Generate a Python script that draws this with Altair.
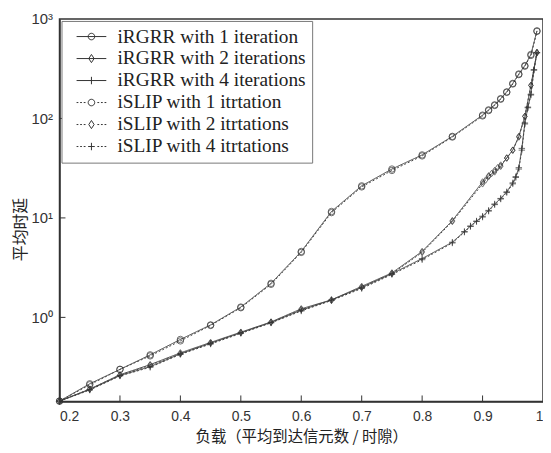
import altair as alt
import pandas as pd

# ---- data ----
series_names = [
    "iRGRR with 1 iteration",
    "iRGRR with 2 iterations",
    "iRGRR with 4 iterations",
    "iSLIP with 1 itrtation",
    "iSLIP with 2 itrtations",
    "iSLIP with 4 itrtations",
]

x_base = [0.2, 0.25, 0.3, 0.35, 0.4, 0.45, 0.5, 0.55, 0.6, 0.65, 0.7, 0.75, 0.8, 0.85]

# iRGRR 1 iteration
r1_x = x_base + [0.9, 0.91, 0.92, 0.93, 0.94, 0.95, 0.96, 0.97, 0.98, 0.99]
r1_y = [0.144, 0.215, 0.30, 0.42, 0.60, 0.84, 1.27, 2.2, 4.6, 11.6, 21, 31, 43, 66,
        108, 122, 137, 158, 185, 225, 280, 340, 440, 760]

# iSLIP 1 iteration
s1_x = x_base + [0.9, 0.91, 0.92, 0.93, 0.94, 0.95, 0.96, 0.97, 0.98, 0.99]
s1_y = [0.144, 0.21, 0.30, 0.41, 0.58, 0.83, 1.25, 2.15, 4.5, 11.3, 20.5, 30, 42, 65,
        106, 120, 135, 156, 183, 222, 276, 335, 430, 750]

# iRGRR 2 iterations
r2_x = x_base + [0.9, 0.91, 0.92, 0.93, 0.94, 0.95, 0.96, 0.97, 0.98, 0.99]
r2_y = [0.144, 0.19, 0.265, 0.335, 0.44, 0.56, 0.71, 0.90, 1.22, 1.5, 2.05, 2.8, 4.6, 9.4,
        23, 26.5, 29, 33, 40, 48, 66, 105, 215, 460]

# iSLIP 2 iterations
s2_x = x_base + [0.9, 0.905, 0.91, 0.915, 0.92, 0.925, 0.93, 0.94, 0.95, 0.96, 0.97, 0.98, 0.99]
s2_y = [0.144, 0.19, 0.262, 0.33, 0.43, 0.55, 0.70, 0.89, 1.2, 1.48, 2.0, 2.75, 4.5, 9.2,
        22, 24, 26, 28, 30, 32, 34, 40, 48, 65, 105, 215, 460]

# iRGRR 4 iterations
r4_x = x_base + [0.87, 0.88, 0.89, 0.9, 0.91, 0.92, 0.93, 0.94, 0.95, 0.955, 0.96,
                 0.965, 0.97, 0.975, 0.98, 0.985, 0.99]
r4_y = [0.144, 0.188, 0.26, 0.32, 0.43, 0.55, 0.70, 0.89, 1.18, 1.5, 2.0, 2.75, 3.9, 5.7,
        7.3, 8.3, 9.3, 10.4, 11.9, 13.8, 15.7, 18.3, 22.5, 26, 32, 50, 90, 130, 175, 310, 460]

# iSLIP 4 iterations
s4_x = x_base + [0.87, 0.88, 0.89, 0.9, 0.91, 0.92, 0.93, 0.94, 0.95, 0.955, 0.96,
                 0.965, 0.97, 0.975, 0.98, 0.985, 0.99]
s4_y = [0.144, 0.186, 0.258, 0.315, 0.425, 0.54, 0.69, 0.88, 1.16, 1.48, 1.95, 2.7, 3.8, 5.6,
        7.2, 8.2, 9.2, 10.2, 11.7, 13.6, 15.5, 18, 22, 25.5, 31, 48, 88, 128, 172, 305, 455]

x_ticks = [0.2, 0.3, 0.4, 0.5, 0.6, 0.7, 0.8, 0.9, 1.0]
y_ticks = [1, 10, 100, 1000]
y_labels = ["10⁰", "10¹", "10²", "10³"]

rows = []
for name, xs, ys in [
    (series_names[0], r1_x, r1_y),
    (series_names[1], r2_x, r2_y),
    (series_names[2], r4_x, r4_y),
    (series_names[3], s1_x, s1_y),
    (series_names[4], s2_x, s2_y),
    (series_names[5], s4_x, s4_y),
]:
    for xv, yv in zip(xs, ys):
        rows.append({"series": name, "legend": name, "x": xv, "y": yv})
df = pd.DataFrame(rows)

W, H = 488, 386
ink = "#333333"

x_enc = alt.X("x:Q", scale=alt.Scale(domain=[0.2, 1.0], nice=False),
              axis=alt.Axis(values=x_ticks, tickSize=0, labelPadding=8,
                            labelExpr="datum.value == 1 ? '1' : format(datum.value, '.1f')",
                            labelFont="Liberation Sans", labelFontSize=14, labelColor=ink,
                            grid=False, domainColor=ink, domainWidth=1.5,
                            title="负载（平均到达信元数 / 时隙）", titleFont="Noto Sans CJK SC",
                            titleFontSize=15.5, titleFontWeight="normal", titleColor="#222",
                            titlePadding=6))
y_expr = " : ".join([f"datum.value == {v} ? '{l}'" for v, l in zip(y_ticks, y_labels)]) + " : ''"
y_enc = alt.Y("y:Q", scale=alt.Scale(type="log", domain=[0.143, 1000], nice=False),
              axis=alt.Axis(values=y_ticks, tickSize=0, labelPadding=7, labelExpr=y_expr,
                            labelFont="Liberation Sans", labelFontSize=15, labelColor=ink,
                            grid=False, domainColor=ink, domainWidth=1.5,
                            title="平均时延", titleFont="Noto Sans CJK SC", titleFontSize=16,
                            titleFontWeight="normal", titleColor="#222", titlePadding=3,
                            titleY=212))

dash_scale = alt.Scale(domain=series_names,
                       range=[[1, 0], [1, 0], [1, 0], [2, 2], [2, 2], [2, 2]])
marker_scale = alt.Scale(domain=series_names, range=[
    "circle",
    "M0,-1L0.7,0L0,1L-0.7,0Z",
    "M0,-1V1M-1,0H1",
    "circle",
    "M0,-1L0.7,0L0,1L-0.7,0Z",
    "M0,-1V1M-1,0H1",
])

# legend glyphs (line sample + marker), units of 7.5 px, marker centred at 1.93
c = 1.93
solid = "M-0.07,0H3.93"
dotted = "".join(f"M{s:.2f},0h0.24" for s in [-0.07, 0.41, 0.89, 2.73, 3.21, 3.69])
circ = f"M{c-0.44:.2f},0A0.44,0.44 0 1,0 {c+0.44:.2f},0A0.44,0.44 0 1,0 {c-0.44:.2f},0"
diam = f"M{c:.2f},-0.55L{c+0.36:.2f},0L{c:.2f},0.55L{c-0.36:.2f},0Z"
plus = f"M{c:.2f},-0.5V0.5"
plus_h = f"M{c-0.45:.2f},0H{c+0.45:.2f}"
legend_scale = alt.Scale(domain=series_names, range=[
    solid + circ, solid + diam, solid + plus,
    dotted + circ, dotted + diam, dotted + plus_h + plus,
])

base = alt.Chart(df)

lines = base.mark_line(strokeWidth=1, color="#444444").encode(
    x=x_enc, y=y_enc, detail="series:N",
    strokeDash=alt.StrokeDash("series:N", scale=dash_scale, legend=None),
)
points = base.mark_point(filled=False, color=ink, size=42, strokeWidth=1).encode(
    x="x:Q", y="y:Q",
    shape=alt.Shape("series:N", scale=marker_scale, legend=None),
)
legend_layer = base.mark_point(opacity=0, color=ink, strokeWidth=1).encode(
    x="x:Q", y="y:Q",
    shape=alt.Shape("legend:N", scale=legend_scale,
                    legend=alt.Legend(title=None, orient="top-left", offset=2,
                                      padding=6, strokeColor="#777777", fillColor="white",
                                      symbolSize=225, symbolStrokeWidth=1, symbolOpacity=1,
                                      symbolStrokeColor=ink, symbolFillColor="transparent",
                                      labelFont="Liberation Serif", labelFontSize=19.5,
                                      labelColor="#222", labelOffset=31, rowPadding=1.2,
                                      labelLimit=400)),
)

tick_x_df = pd.DataFrame({"x": x_ticks[1:-1]})
tick_y_df = pd.DataFrame({"y": y_ticks[:-1]})
xticks = alt.Chart(tick_x_df).mark_rule(color=ink, strokeWidth=1).encode(
    x="x:Q", y=alt.value(H), y2=alt.value(H - 6))
yticks = alt.Chart(tick_y_df).mark_rule(color=ink, strokeWidth=1).encode(
    y="y:Q", x=alt.value(0), x2=alt.value(6))

chart = alt.layer(lines, points, legend_layer, xticks, yticks).resolve_scale(
    shape="independent"
).properties(
    width=W, height=H,
    autosize=alt.AutoSizeParams(type="none"),
    padding={"left": 52, "top": 9, "right": 0, "bottom": 49},
    background="white",
).configure_view(stroke=ink, strokeWidth=1.5)

chart.save("out.html", embed_options={"renderer": "svg", "actions": False})
